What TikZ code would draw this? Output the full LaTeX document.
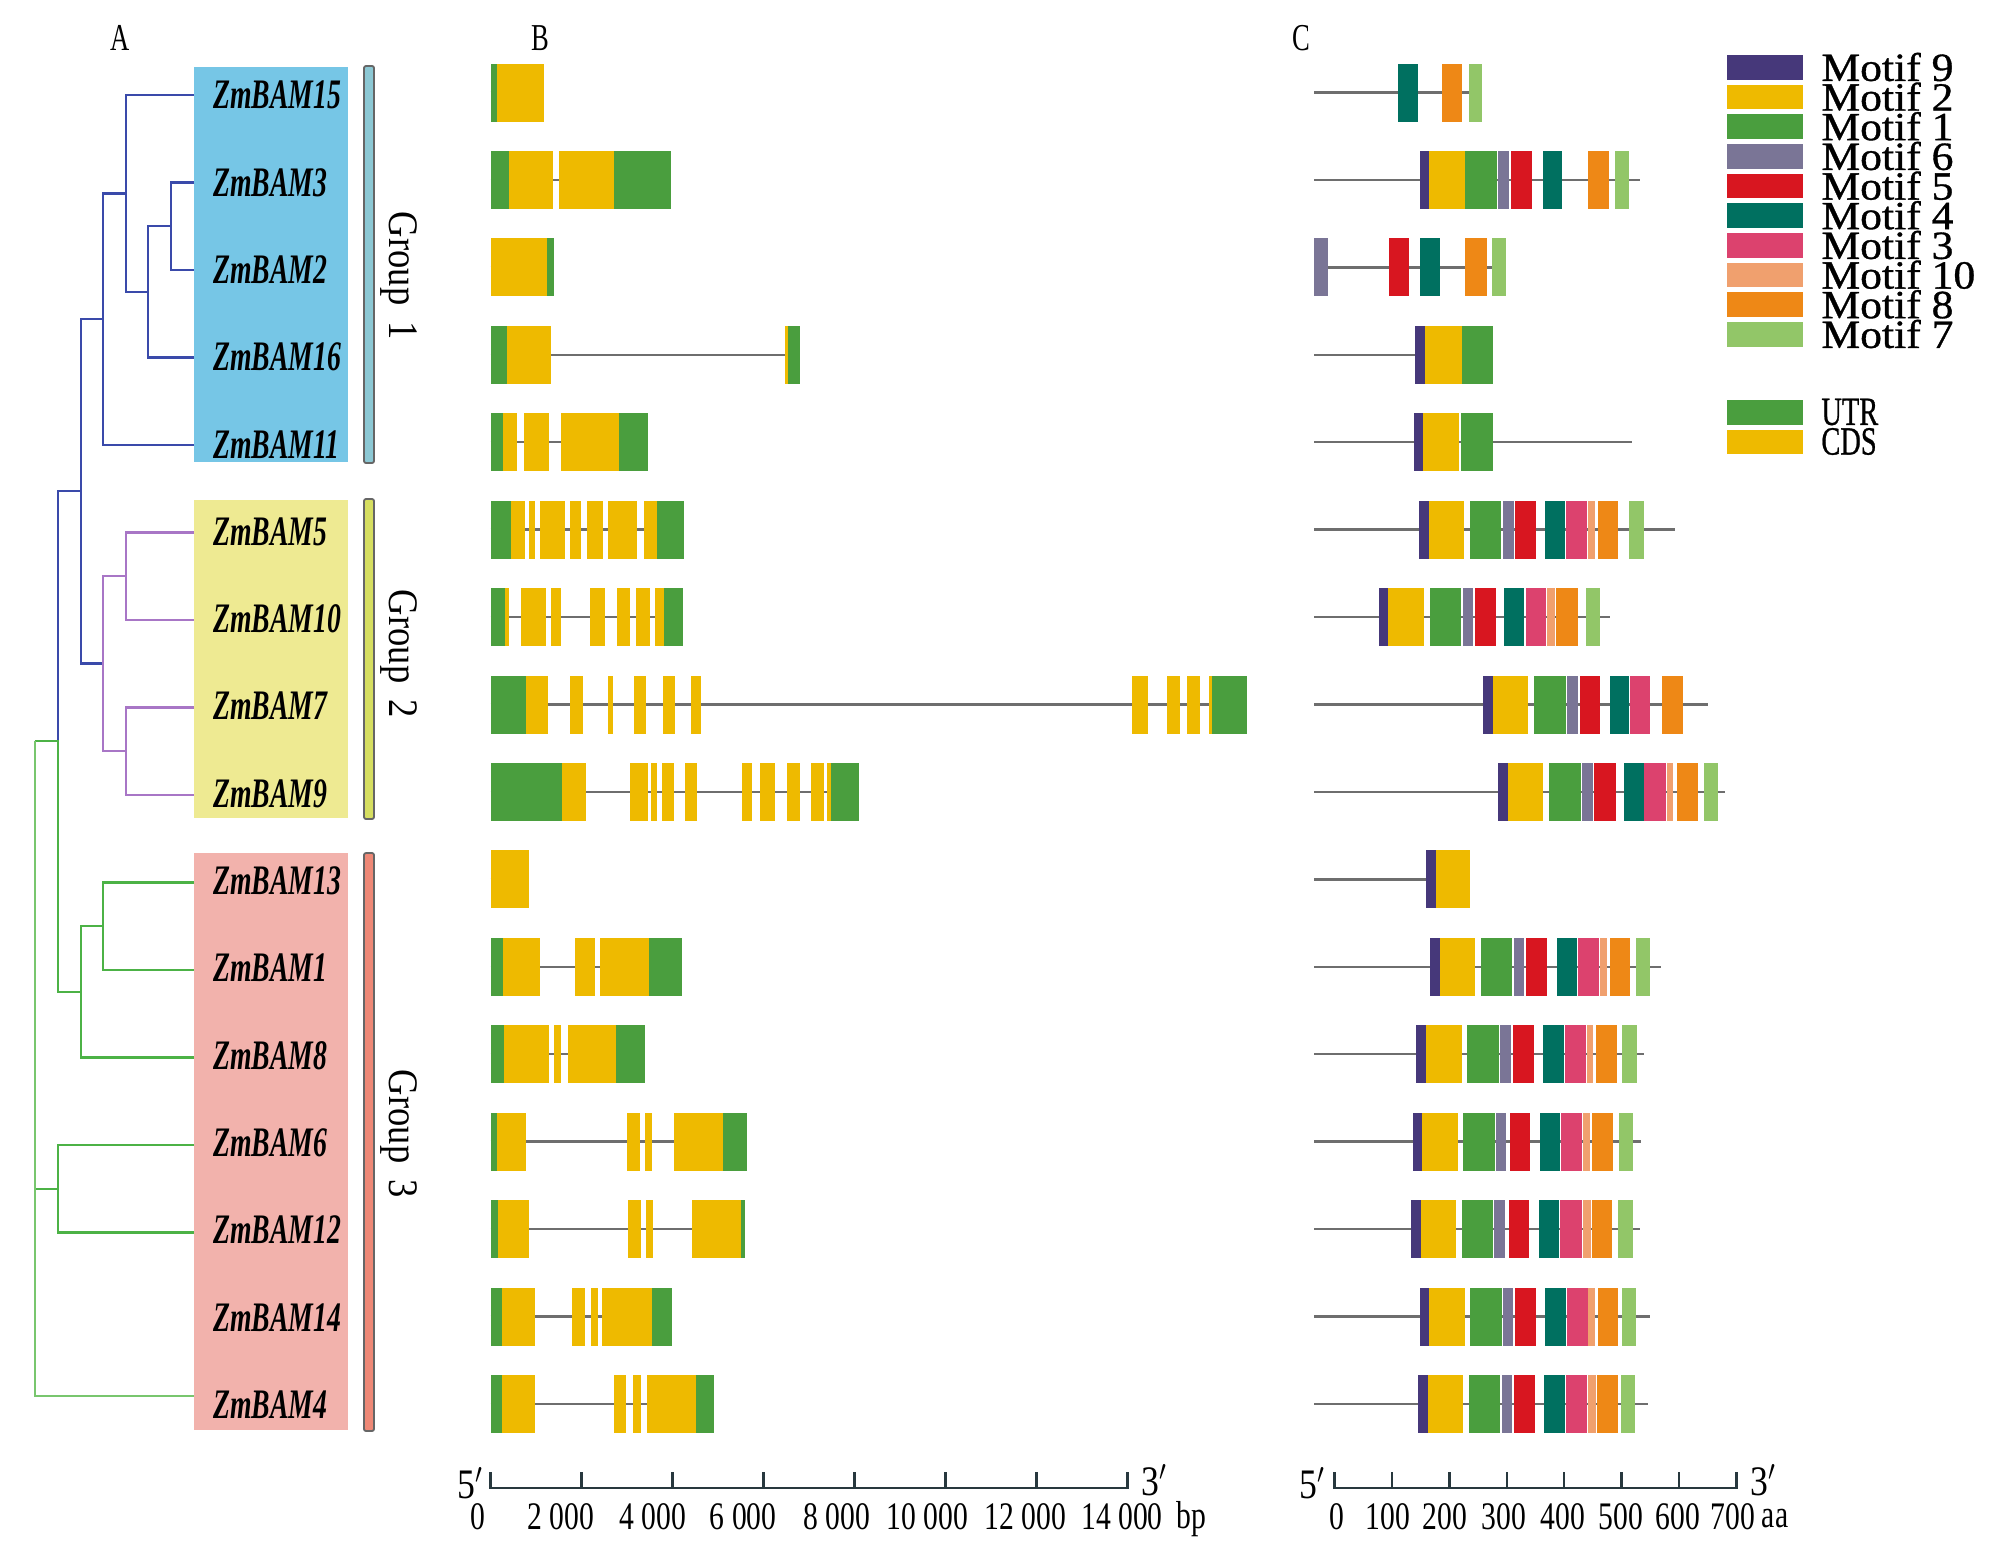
\documentclass[tikz,border=0pt]{standalone}
\usepackage{fontspec}
\setmainfont{Liberation Serif}
\newfontfamily\legfont[FakeBold=0.8]{Liberation Serif}
\usepackage{graphicx}
\definecolor{utr}{RGB}{74,158,62}
\definecolor{cds}{RGB}{238,186,0}
\definecolor{m9}{RGB}{70,56,122}
\definecolor{m2}{RGB}{238,186,0}
\definecolor{m1}{RGB}{74,158,62}
\definecolor{m6}{RGB}{122,117,150}
\definecolor{m5}{RGB}{216,22,32}
\definecolor{m4}{RGB}{0,112,96}
\definecolor{m3}{RGB}{220,66,110}
\definecolor{m10}{RGB}{240,160,110}
\definecolor{m8}{RGB}{238,136,22}
\definecolor{m7}{RGB}{146,198,104}
\definecolor{treeblue}{RGB}{58,74,170}
\definecolor{treepurple}{RGB}{168,118,198}
\definecolor{treegreen}{RGB}{76,178,70}
\definecolor{treelgreen}{RGB}{120,198,110}
\definecolor{boxblue}{RGB}{118,198,230}
\definecolor{boxyellow}{RGB}{238,234,146}
\definecolor{boxpink}{RGB}{242,178,172}
\definecolor{barblue}{RGB}{140,200,212}
\definecolor{baryellow}{RGB}{214,222,96}
\definecolor{barpink}{RGB}{238,136,118}
\definecolor{axiscol}{RGB}{40,56,62}
\definecolor{intcol}{RGB}{110,110,110}
\newcommand\legtxt[2]{\scalebox{#1}[1]{\fontsize{20}{20}\legfont\selectfont #2}}
\newcommand\genelab[1]{\scalebox{0.66}[1]{\fontsize{21}{21}\selectfont\bfseries\itshape #1}}
\newcommand\ticklab[1]{\scalebox{0.76}[1]{\fontsize{19.5}{19.5}\selectfont #1}}
\newcommand\panlab[1]{\scalebox{0.7}[1]{\fontsize{19}{19}\selectfont #1}}
\newcommand\grouplab[1]{\scalebox{0.87}[1]{\fontsize{21}{21}\selectfont Group\hspace{0.45em}#1}}
\newcommand\primelab[1]{\scalebox{0.85}[1]{\fontsize{21}{21}\selectfont #1$'$}}
% gene structure: yc, xstart, xend, list colour/x1/x2
\newcommand\gs[4]{%
  \draw[intr] (#2,#1) -- (#3,#1);
  \foreach \cc/\xa/\xb in {#4} {\fill[fill=\cc] (\xa,#1-29) rectangle (\xb,#1+29);}%
}
% legend: name, top y, colour, hscale, text
\newcommand\leg[5]{%
  \fill[#3] (1727,{#2}) rectangle (1803,{#2+24.7});
  \node[anchor=west,inner sep=0] (#1) at (1821,{#2+12}) {\legtxt{#4}{#5}};%
}
\begin{document}
\begin{tikzpicture}[x=0.5pt,y=-0.5pt,
  tb/.style={draw=treeblue,line width=1.3pt},
  tp/.style={draw=treepurple,line width=1.3pt},
  tg/.style={draw=treegreen,line width=1.3pt},
  tlg/.style={draw=treelgreen,line width=1.3pt},
  intr/.style={draw=intcol,line width=1.25pt},
  axl/.style={draw=axiscol,line width=1.2pt},
  lab/.style={anchor=west,inner sep=0pt},
  gbar/.style={draw=gray!80!black,line width=0.9pt,rounded corners=1pt}]
\useasboundingbox (0,0) rectangle (2016,1542);
\fill[white] (0,0) rectangle (2016,1542);

% ---------- panel letters
\node[inner sep=0] (pA) at (120,38) {\panlab{A}};
\node[inner sep=0] (pB) at (540,38) {\panlab{B}};
\node[inner sep=0] (pC) at (1301,38) {\panlab{C}};

% ---------- coloured label boxes
\fill[boxblue] (194,67) rectangle (348,462);
\fill[boxyellow] (194,500) rectangle (348,818);
\fill[boxpink] (194,853) rectangle (348,1430);

% ---------- group bars
\filldraw[gbar,fill=barblue] (364,66) rectangle (374,463);
\filldraw[gbar,fill=baryellow] (364,499) rectangle (374,819);
\filldraw[gbar,fill=barpink] (364,853) rectangle (374,1431);
\node[inner sep=0,rotate=-90] (g1) at (399,276) {\grouplab{1}};
\node[inner sep=0,rotate=-90] (g2) at (399,654) {\grouplab{2}};
\node[inner sep=0,rotate=-90] (g3) at (399,1134) {\grouplab{3}};

% ---------- tree
\draw[tb] (194,182.5) -- (171,182.5) -- (171,270) -- (194,270);
\draw[tb] (171,226) -- (148,226) -- (148,357.5) -- (194,357.5);
\draw[tb] (148,292) -- (126,292) -- (126,95) -- (194,95);
\draw[tb] (126,193.5) -- (103,193.5) -- (103,445) -- (194,445);
\draw[tb] (103,319) -- (81,319) -- (81,663.5) -- (103,663.5);
\draw[tb] (81,491) -- (58,491) -- (58,741);
\draw[tp] (194,532.5) -- (126,532.5) -- (126,620) -- (194,620);
\draw[tp] (194,707.5) -- (126,707.5) -- (126,795) -- (194,795);
\draw[tp] (126,576) -- (103,576) -- (103,751) -- (126,751);
\draw[tg] (194,882.5) -- (103,882.5) -- (103,970) -- (194,970);
\draw[tg] (103,926) -- (81,926) -- (81,1057.5) -- (194,1057.5);
\draw[tg] (81,992) -- (58,992) -- (58,741) -- (35,741);
\draw[tg] (194,1145) -- (58,1145) -- (58,1232.5) -- (194,1232.5);
\draw[tg] (58,1189) -- (35,1189);
\draw[tlg] (35,741) -- (35,1396) -- (194,1396);

% ---------- gene labels
\node[lab] (l15) at (213,95) {\genelab{ZmBAM15}};
\node[lab] (l3) at (213,182.3) {\genelab{ZmBAM3}};
\node[lab] (l2) at (213,269.6) {\genelab{ZmBAM2}};
\node[lab] (l16) at (213,356.9) {\genelab{ZmBAM16}};
\node[lab] (l11) at (213,444.2) {\genelab{ZmBAM11}};
\node[lab] (l5) at (213,531.5) {\genelab{ZmBAM5}};
\node[lab] (l10) at (213,618.8) {\genelab{ZmBAM10}};
\node[lab] (l7) at (213,706.1) {\genelab{ZmBAM7}};
\node[lab] (l9) at (213,793.4) {\genelab{ZmBAM9}};
\node[lab] (l13) at (213,880.7) {\genelab{ZmBAM13}};
\node[lab] (l1) at (213,968) {\genelab{ZmBAM1}};
\node[lab] (l8) at (213,1055.3) {\genelab{ZmBAM8}};
\node[lab] (l6) at (213,1142.6) {\genelab{ZmBAM6}};
\node[lab] (l12) at (213,1229.9) {\genelab{ZmBAM12}};
\node[lab] (l14) at (213,1317.2) {\genelab{ZmBAM14}};
\node[lab] (l4) at (213,1404.5) {\genelab{ZmBAM4}};

% ---------- panel B gene structures
\gs{92.5}{490.6}{544.2}{utr/490.6/496.7, cds/496.7/544.2}
\gs{179.9}{490.6}{670.7}{utr/490.6/508.5, cds/508.5/552.9, cds/558.5/614.1, utr/614.1/670.7}
\gs{267.4}{490.6}{554.4}{cds/490.6/546.7, utr/546.7/554.4}
\gs{354.8}{490.6}{800.3}{utr/490.6/507.4, cds/507.4/550.8, cds/785/787.6, utr/787.6/800.3}
\gs{442.2}{490.6}{647.8}{utr/490.6/503.4, cds/503.4/517.1, cds/523.8/549.3, cds/560.5/619.2, utr/619.2/647.8}
\gs{529.7}{490.6}{683.5}{utr/490.6/511.0, cds/511.0/524.8, cds/528.9/535.0, cds/540.1/564.6, cds/570.2/580.9, cds/586.5/602.9, cds/608.0/637.0, cds/644.2/657.4, utr/657.4/683.5}
\gs{617.1}{490.6}{683.0}{utr/490.6/505.4, cds/505.4/508.5, cds/521.2/545.7, cds/550.8/561.0, cds/590.1/605.4, cds/617.1/629.9, cds/636.0/649.8, cds/655.4/664.1, utr/664.1/683.0}
\gs{704.5}{490.6}{1247.2}{utr/490.6/526.3, cds/526.3/547.8, cds/569.7/583.0, cds/608.0/613.1, cds/633.5/646.2, cds/662.6/674.9, cds/691.1/701.3, cds/1132.4/1147.8, cds/1166.6/1179.9, cds/1186.5/1199.8, cds/1208.5/1211.5, utr/1211.5/1247.2}
\gs{791.9}{490.6}{858.5}{utr/490.6/562.0, cds/562.0/586.0, cds/629.9/647.8, cds/651.3/657.4, cds/661.5/674.3, cds/684.5/697.2, cds/741.6/752.3, cds/759.5/775.3, cds/786.5/800.3, cds/811.0/823.8, cds/827/831, utr/831/858.5}
\gs{879.4}{490.6}{529.4}{cds/490.6/529.4}
\gs{966.8}{490.6}{681.9}{utr/490.6/503.4, cds/503.4/540.1, cds/574.8/594.7, cds/600.3/648.8, utr/648.8/681.9}
\gs{1054.2}{490.6}{645.2}{utr/490.6/504.4, cds/504.4/549.3, cds/554.4/561.0, cds/567.7/615.6, utr/615.6/645.2}
\gs{1141.7}{490.6}{747.2}{utr/490.6/496.7, cds/496.7/526.3, cds/627.3/640.1, cds/645.2/652.3, cds/674.3/722.8, utr/722.8/747.2}
\gs{1229.1}{490.6}{744.7}{utr/490.6/498.3, cds/498.3/529.4, cds/628.4/641.1, cds/646.2/653.4, cds/692.1/740.6, utr/740.6/744.7}
\gs{1316.5}{490.6}{671.7}{utr/490.6/501.8, cds/501.8/535.0, cds/571.7/584.5, cds/591.1/597.8, cds/601.8/651.8, utr/651.8/671.7}
\gs{1404}{490.6}{713.6}{utr/490.6/501.8, cds/501.8/534.5, cds/613.6/626.3, cds/633.0/640.6, cds/646.7/696.2, utr/696.2/713.6}

% ---------- panel B axis
\draw[axl] (490.6,1472) -- (490.6,1488) -- (1127.3,1488) -- (1127.3,1472);
\foreach \i in {1,...,6} {\draw[axl] (490.6+90.96*\i,1472) -- (490.6+90.96*\i,1488);}
\node[inner sep=0] (b5) at (470,1483) {\primelab{5}};
\node[inner sep=0] (b3) at (1154,1480) {\primelab{3}};
\node[inner sep=0] (bt0) at (478,1517) {\ticklab{0}};
\node[inner sep=0] (bt1) at (561,1517) {\ticklab{2 000}};
\node[inner sep=0] (bt2) at (652.9,1517) {\ticklab{4 000}};
\node[inner sep=0] (bt3) at (743.2,1517) {\ticklab{6 000}};
\node[inner sep=0] (bt4) at (836.5,1517) {\ticklab{8 000}};
\node[inner sep=0] (bt5) at (927.3,1517) {\ticklab{10 000}};
\node[inner sep=0] (bt6) at (1025.3,1517) {\ticklab{12 000}};
\node[inner sep=0] (bt7) at (1122,1517) {\ticklab{14 000}};
\node[inner sep=0] (btu) at (1191,1519) {\ticklab{bp}};

% ---------- panel C motifs
\gs{92.5}{1314.3}{1469}{m4/1397.9/1417.6, m8/1441.5/1462.2, m7/1469.1/1481.5}
\gs{179.9}{1314.3}{1639.9}{m9/1419.5/1428.7, m2/1428.7/1464.5, m1/1464.5/1496.6, m6/1497.5/1509, m5/1510.8/1532.4, m4/1542.5/1562.3, m8/1587.5/1609.1, m7/1615.1/1628.8}
\gs{267.4}{1314.3}{1492}{m6/1314.3/1328.1, m5/1388.7/1409.4, m4/1419.9/1440.1, m8/1465.4/1486.5, m7/1492/1506.3}
\gs{354.8}{1314.3}{1415.3}{m9/1415.3/1425.4, m2/1425.4/1462.2, m1/1462.2/1493.4}
\gs{442.2}{1314.3}{1632.1}{m9/1413.5/1423.1, m2/1423.1/1458.5, m1/1461.3/1493.4}
\gs{529.7}{1314.3}{1674.8}{m9/1418.6/1428.7, m2/1428.7/1463.6, m1/1469.5/1501.2, m6/1503/1513.6, m5/1515.4/1535.6, m4/1544.8/1565, m3/1566.4/1587.1, m10/1588.4/1595.3, m8/1597.6/1618.3, m7/1628.8/1643.5}
\gs{617.1}{1314.3}{1610}{m9/1379.1/1387.8, m2/1387.8/1424.1, m1/1429.6/1460.8, m6/1463.1/1473.2, m5/1475/1495.7, m4/1504.4/1524.2, m3/1525.5/1546.2, m10/1547.1/1555.4, m8/1556.3/1577.9, m7/1586.1/1599.9}
\gs{704.5}{1314.3}{1707.8}{m9/1483.3/1492.5, m2/1492.5/1527.8, m1/1534.3/1565.5, m6/1566.9/1577.9, m5/1579.7/1599.9, m4/1609.6/1628.8, m3/1629.8/1650.4, m8/1661.9/1682.6}
\gs{791.9}{1314.3}{1725.3}{m9/1498/1508.1, m2/1508.1/1543, m1/1549/1580.6, m6/1582/1592.6, m5/1594.4/1615.5, m4/1624.3/1644.4, m3/1644.4/1665.6, m10/1666.5/1673.4, m8/1676.6/1698.2, m7/1704.1/1718.4}
\gs{879.4}{1314.3}{1426.4}{m9/1426.4/1435.5, m2/1435.5/1470.4}
\gs{966.8}{1314.3}{1661}{m9/1430/1440.1, m2/1440.1/1475, m1/1480.5/1511.8, m6/1513.6/1524.2, m5/1526/1547.1, m4/1556.8/1576.5, m3/1578.3/1599, m10/1600.4/1606.8, m8/1609.6/1630.2, m7/1635.7/1649.5}
\gs{1054.2}{1314.3}{1644.4}{m9/1416.3/1425.9, m2/1425.9/1461.7, m1/1467.2/1498.9, m6/1500.3/1511.3, m5/1513.1/1533.8, m4/1543.4/1564.1, m3/1565/1586.1, m10/1587.1/1593, m8/1595.8/1616.9, m7/1622.4/1636.6}
\gs{1141.7}{1314.3}{1641.2}{m9/1412.6/1421.8, m2/1421.8/1457.6, m1/1463.1/1494.8, m6/1495.7/1506.3, m5/1509.5/1530.1, m4/1540.2/1560.4, m3/1561.3/1582, m10/1582.9/1590.3, m8/1592.1/1612.8, m7/1618.7/1633.4}
\gs{1229.1}{1314.3}{1640.3}{m9/1411.2/1420.9, m2/1420.9/1456.2, m1/1461.7/1492.9, m6/1494.3/1505.3, m5/1508.5/1529.2, m4/1539.3/1559.1, m3/1560.4/1581.5, m10/1582.5/1590.7, m8/1591.7/1612.3, m7/1618.3/1632.5}
\gs{1316.5}{1314.3}{1649.5}{m9/1419.5/1428.7, m2/1428.7/1464.5, m1/1469.5/1501.7, m6/1502.6/1513.1, m5/1515/1536.1, m4/1545.3/1565.9, m3/1566.9/1587.5, m10/1588.4/1595.3, m8/1597.6/1618.3, m7/1622/1635.7}
\gs{1404}{1314.3}{1648.1}{m9/1417.6/1427.7, m2/1427.7/1463.1, m1/1468.6/1500.3, m6/1501.7/1511.8, m5/1514.1/1534.7, m4/1543.9/1564.6, m3/1565.5/1587.1, m10/1588/1596.2, m8/1597.2/1617.8, m7/1621/1635.3}

% ---------- panel C axis
\draw[axl] (1334.5,1472) -- (1334.5,1488) -- (1736.3,1488) -- (1736.3,1472);
\foreach \i in {1,...,6} {\draw[axl] (1334.5+57.4*\i,1472) -- (1334.5+57.4*\i,1488);}
\node[inner sep=0] (c5) at (1312,1483) {\primelab{5}};
\node[inner sep=0] (c3) at (1763,1480) {\primelab{3}};
\node[inner sep=0] (ct0) at (1337,1517) {\ticklab{0}};
\node[inner sep=0] (ct1) at (1388,1517) {\ticklab{100}};
\node[inner sep=0] (ct2) at (1445,1517) {\ticklab{200}};
\node[inner sep=0] (ct3) at (1504,1517) {\ticklab{300}};
\node[inner sep=0] (ct4) at (1563,1517) {\ticklab{400}};
\node[inner sep=0] (ct5) at (1621,1517) {\ticklab{500}};
\node[inner sep=0] (ct6) at (1678,1517) {\ticklab{600}};
\node[inner sep=0] (ct7) at (1733,1517) {\ticklab{700}};
\node[inner sep=0] (ctu) at (1775,1519) {\ticklab{aa}};

% ---------- legend
\leg{lg9}{55}{m9}{1.09}{Motif 9}
\leg{lg2}{84.7}{m2}{1.09}{Motif 2}
\leg{lg1}{114.3}{m1}{1.09}{Motif 1}
\leg{lg6}{144}{m6}{1.09}{Motif 6}
\leg{lg5}{173.7}{m5}{1.09}{Motif 5}
\leg{lg4}{203.3}{m4}{1.09}{Motif 4}
\leg{lg3}{233}{m3}{1.09}{Motif 3}
\leg{lg10}{262.7}{m10}{1.09}{Motif 10}
\leg{lg8}{292.3}{m8}{1.09}{Motif 8}
\leg{lg7}{322}{m7}{1.09}{Motif 7}
\leg{lgu}{400}{utr}{0.71}{UTR}
\leg{lgc}{429.5}{cds}{0.71}{CDS}
\end{tikzpicture}
\end{document}
